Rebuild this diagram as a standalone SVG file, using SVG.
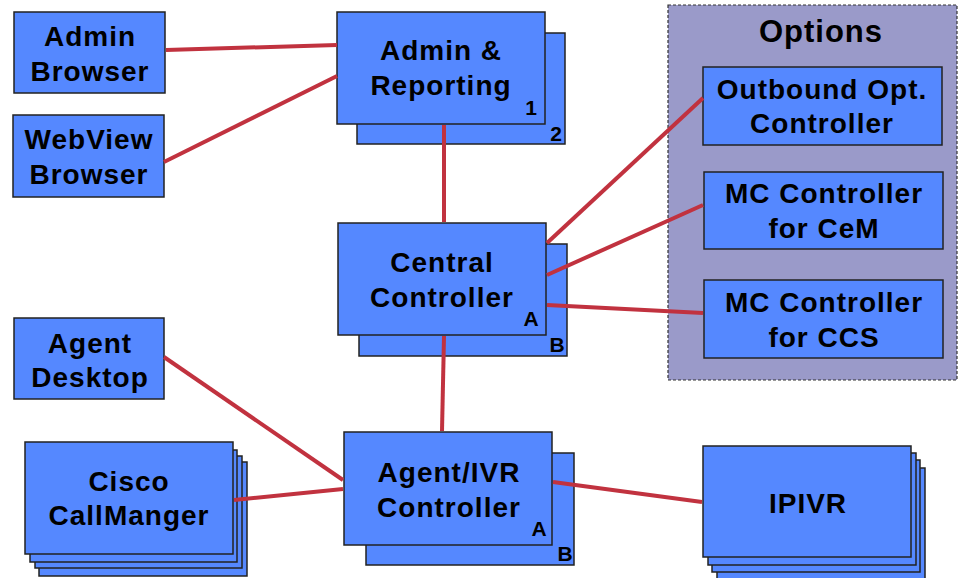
<svg xmlns="http://www.w3.org/2000/svg" width="959" height="578" viewBox="0 0 959 578">
<style>
.box{fill:#5588ff;stroke:#222;stroke-width:1.5}
.t{font-family:"Liberation Sans",Arial,sans-serif;font-weight:bold;font-size:28px;letter-spacing:1px;fill:#000;text-anchor:middle}
.s{font-family:"Liberation Sans",Arial,sans-serif;font-weight:bold;font-size:21px;fill:#000;text-anchor:middle}
.c{stroke:#c1323f;stroke-width:4;fill:none;stroke-linecap:butt}
</style>
<rect width="959" height="578" fill="#fff"/>
<g id="options">
<rect x="668" y="5" width="289" height="375" fill="#9a9ac9" stroke="#333" stroke-width="1.2" stroke-dasharray="3,2"/>
<text class="t" x="821" y="42" style="font-size:31px;letter-spacing:1px">Options</text>
</g>
<g id="admin-browser">
<rect class="box" x="14" y="12" width="151" height="81"/>
<text class="t" x="90" y="46">Admin</text>
<text class="t" x="90" y="81">Browser</text>
</g>
<g id="webview-browser">
<rect class="box" x="13" y="115" width="151" height="82"/>
<text class="t" x="89" y="149">WebView</text>
<text class="t" x="89" y="184">Browser</text>
</g>
<g id="admin-reporting">
<rect class="box" x="357" y="33" width="208" height="111"/>
<rect class="box" x="337" y="12" width="208" height="112"/>
<text class="t" x="441" y="60">Admin &amp;</text>
<text class="t" x="441" y="95">Reporting</text>
<text class="s" x="531" y="115">1</text>
<text class="s" x="556" y="141">2</text>
</g>
<g id="central-controller">
<rect class="box" x="359" y="244" width="208" height="112"/>
<rect class="box" x="338" y="223" width="208" height="112"/>
<text class="t" x="442" y="272">Central</text>
<text class="t" x="442" y="307">Controller</text>
<text class="s" x="531" y="326">A</text>
<text class="s" x="557" y="352">B</text>
</g>
<g id="agent-desktop">
<rect class="box" x="14" y="318" width="150" height="81"/>
<text class="t" x="90" y="353">Agent</text>
<text class="t" x="90" y="387">Desktop</text>
</g>
<g id="agent-ivr-controller">
<rect class="box" x="366" y="453" width="208" height="112"/>
<rect class="box" x="344" y="432" width="208" height="113"/>
<text class="t" x="449" y="482">Agent/IVR</text>
<text class="t" x="449" y="517">Controller</text>
<text class="s" x="539" y="536">A</text>
<text class="s" x="565" y="561">B</text>
</g>
<g id="cisco-callmanager">
<rect class="box" x="39" y="462" width="208" height="114"/>
<rect class="box" x="35" y="456" width="207" height="112"/>
<rect class="box" x="30" y="450" width="207" height="112"/>
<rect class="box" x="25" y="442" width="208" height="112"/>
<text class="t" x="129" y="491">Cisco</text>
<text class="t" x="129" y="525">CallManger</text>
</g>
<g id="ipivr">
<rect class="box" x="717" y="468" width="208" height="114"/>
<rect class="box" x="712" y="460" width="208" height="112"/>
<rect class="box" x="708" y="453" width="208" height="112"/>
<rect class="box" x="703" y="446" width="208" height="111"/>
<text class="t" x="808" y="513">IPIVR</text>
</g>
<g id="outbound-opt-controller">
<rect class="box" x="703" y="67" width="239" height="78"/>
<text class="t" x="822" y="99">Outbound Opt.</text>
<text class="t" x="822" y="133">Controller</text>
</g>
<g id="mc-controller-cem">
<rect class="box" x="704" y="172" width="239" height="77"/>
<text class="t" x="824" y="203">MC Controller</text>
<text class="t" x="824" y="238">for CeM</text>
</g>
<g id="mc-controller-ccs">
<rect class="box" x="704" y="280" width="239" height="78"/>
<text class="t" x="824" y="312">MC Controller</text>
<text class="t" x="824" y="347">for CCS</text>
</g>
<g id="connectors">
<line class="c" x1="166" y1="50" x2="337" y2="45"/>
<line class="c" x1="164" y1="162" x2="337" y2="76"/>
<line class="c" x1="444" y1="125" x2="444" y2="222"/>
<line class="c" x1="547" y1="243" x2="703" y2="98"/>
<line class="c" x1="547" y1="275" x2="703" y2="205"/>
<line class="c" x1="547" y1="305" x2="703" y2="313"/>
<line class="c" x1="444" y1="336" x2="442" y2="431"/>
<line class="c" x1="164" y1="357" x2="343" y2="480"/>
<line class="c" x1="234" y1="500" x2="343" y2="489"/>
<line class="c" x1="553" y1="482" x2="702" y2="502"/>
</g>
</svg>
